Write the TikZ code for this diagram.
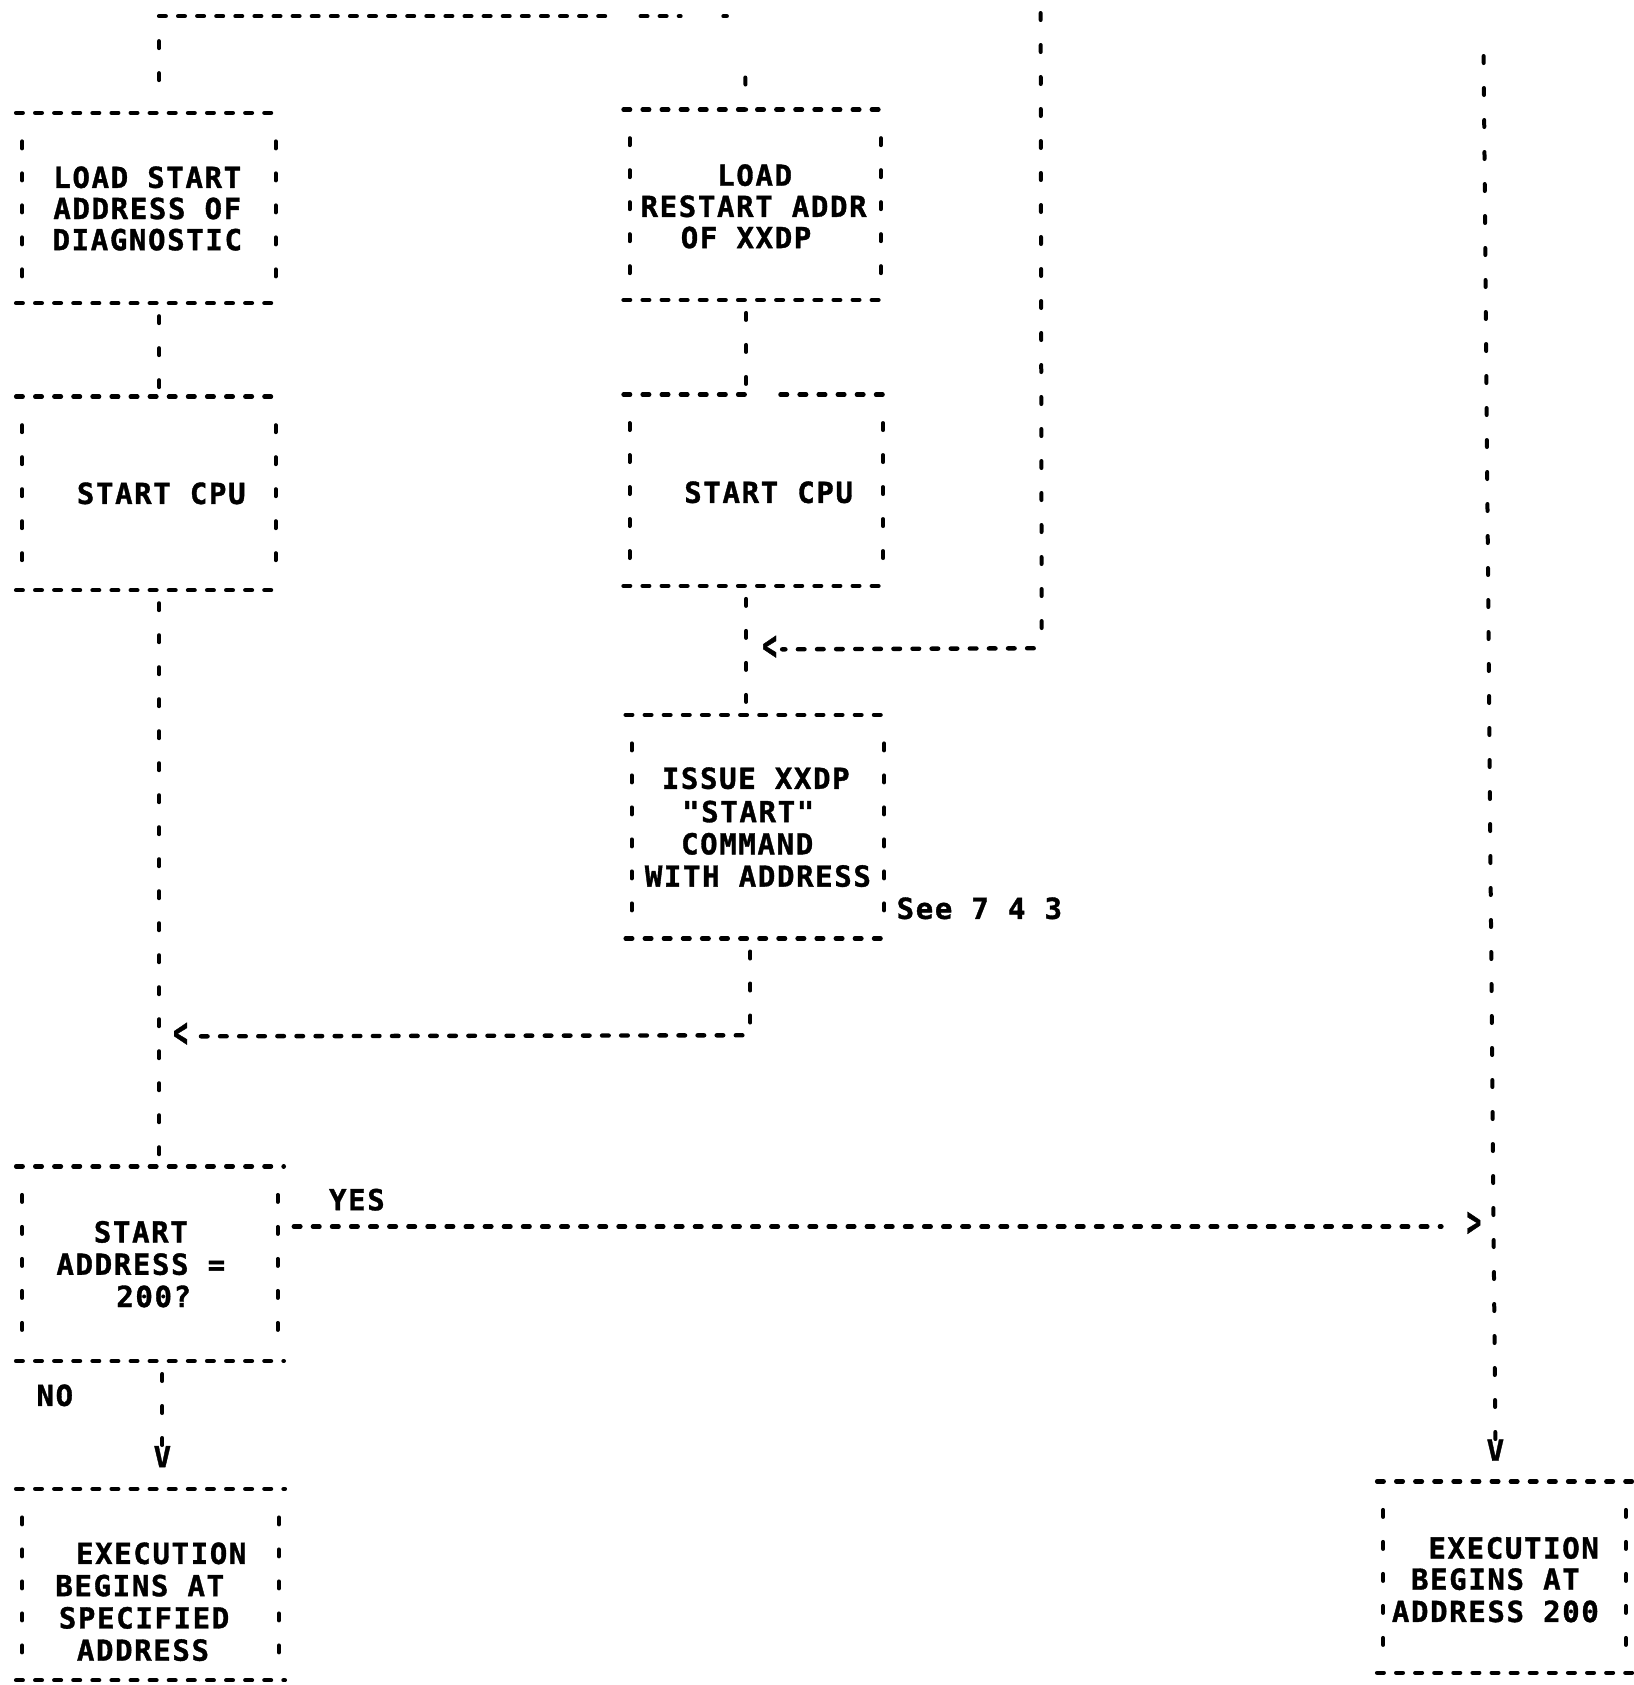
\documentclass[tikz,border=0pt]{standalone}
\usepackage{fontspec}
\usepackage{graphicx}
\usetikzlibrary{fit}
\newfontfamily\prt[LetterSpace=5.7, BoldFeatures={FakeBold=1.2}]{DejaVu Sans Mono}
\tikzset{
  hd/.style={line width=4.4pt, line cap=round, dash pattern=on 6.6pt off 12.5pt},
  vd/.style={line width=4pt, line cap=round, dash pattern=on 7pt off 25pt},
  vc/.style={vd, dash phase=19pt},
  boxn/.style={inner sep=0pt, outer sep=0pt, draw=none},
  txt/.style={font=\prt\bfseries\fontsize{29pt}{32pt}\selectfont, inner sep=0pt, outer sep=0pt, text height=21pt, text depth=0pt},
}
\newcommand\pbox[5]{%
  \node[boxn, fit={(#2,#3)(#4,#5)}] (#1) {};
  \draw[hd] (#1.north west) -- (#1.north east);
  \draw[hd] (#1.south west) -- (#1.south east);
  \draw[vd] ([xshift=6pt,yshift=-28.5pt]#1.north west) -- ([xshift=6pt,yshift=20pt]#1.south west);
  \draw[vd] ([xshift=-6pt,yshift=-28.5pt]#1.north east) -- ([xshift=-6pt,yshift=20pt]#1.south east);}
\newcommand\lt{\scalebox{0.85}[1.45]{<}}
\newcommand\gt{\scalebox{0.85}[1.45]{>}}
\begin{document}
\begin{tikzpicture}[x=1.075pt,y=-1.075pt]
\useasboundingbox (0,0) rectangle (1519.1,1567.4);

% boxes
\pbox{b1}{15}{105}{262}{282}
\node[boxn, fit={(580,367)(827,545)}] (b4) {};
\pbox{b2}{580}{102}{825}{279}
\pbox{b3}{15}{369}{262}{549}
\pbox{b5}{582}{665}{828}{873}
\pbox{b6}{15}{1085}{264}{1266}
\pbox{b7}{15}{1385}{265}{1563}
\pbox{b8}{1281}{1378}{1518}{1556}
% b4 drawn with gap in its top edge
\coordinate (g1) at (699,367);
\coordinate (g2) at (726,367);
\draw[hd] (b4.north west) -- (g1);
\draw[hd] (g2) -- (b4.north east);
\draw[hd] (b4.south west) -- (b4.south east);
\draw[vd] ([xshift=6pt,yshift=-28.5pt]b4.north west) -- ([xshift=6pt,yshift=20pt]b4.south west);
\draw[vd] ([xshift=-6pt,yshift=-28.5pt]b4.north east) -- ([xshift=-6pt,yshift=20pt]b4.south east);

% texts
\node[txt] (l1a) at (137,165) {LOAD START};
\node[txt] (l1b) at (137,194) {ADDRESS OF};
\node[txt] (l1c) at (137,223) {DIAGNOSTIC};
\node[txt] (l2a) at (702,163) {LOAD};
\node[txt] (l2b) at (701,192) {RESTART ADDR};
\node[txt] (l2c) at (694,221) {OF XXDP};
\node[txt] (l3a) at (150,459) {START CPU};
\node[txt] (l4a) at (715,458) {START CPU};
\node[txt] (l5a) at (703,724) {ISSUE XXDP};
\node[txt] (l5b) at (696,755) {"START"};
\node[txt] (l5c) at (695,785) {COMMAND};
\node[txt] (l5d) at (705,815) {WITH ADDRESS};
\node[txt] (see) at (911,845) {See 7 4 3};
\node[txt] (l6a) at (131,1146) {START};
\node[txt] (l6b) at (131,1176) {ADDRESS =};
\node[txt] (l6c) at (143,1206) {200?};
\node[txt] (yes) at (332,1116) {YES};
\node[txt] (no) at (51,1298) {NO};
\node[txt] (l7a) at (150,1445) {EXECUTION};
\node[txt] (l7b) at (130,1475) {BEGINS AT};
\node[txt] (l7c) at (134,1505) {SPECIFIED};
\node[txt] (l7d) at (133,1535) {ADDRESS};
\node[txt] (l8a) at (1408,1440) {EXECUTION};
\node[txt] (l8b) at (1391,1469) {BEGINS AT};
\node[txt] (l8c) at (1391,1499) {ADDRESS 200};

% arrow glyphs
\node[txt] (lt1) at (716,604) {\lt};
\node[txt] (lt2) at (168,964) {\lt};
\node[txt] (gtn) at (1371,1140) {\gt};
\node[txt] (vL) at (151,1355) {V};
\node[txt] (vR) at (1391,1349) {V};

% column / row coordinates
\coordinate (colA) at (148,0);
\coordinate (colA2) at (151,0);
\coordinate (colB) at (698,0);
\coordinate (colC) at (694,0);
\coordinate (t1) at (148,15);
\coordinate (t1b) at (148,88);
\coordinate (t2) at (572,15);
\coordinate (t3) at (596,15);
\coordinate (t4) at (633,15);
\coordinate (t5) at (673,15);
\coordinate (t6) at (676,15);
\coordinate (t7) at (693,60);
\coordinate (top968) at (968,0);
\coordinate (j1) at (969,603);
\coordinate (j2) at (698,963);
\coordinate (yrow) at (0,1141);
\coordinate (rc) at (1380,40);

% connectors
\draw[hd] (t1) -- (t2);
\draw[hd] (t3) -- (t4);
\draw[hd] (t5) -- (t6);
\draw[vd, dash phase=7pt] (t1) -- (t1b);
\draw[vc] (t7) -- (b2.north -| colC);
\draw[vc] (b1.south -| colA) -- (b3.north -| colA);
\draw[vc] (b2.south -| colC) -- (b4.north -| colC);
\draw[vc] (b4.south -| colC) -- (b5.north -| colC);
\draw[vc] (top968) -- (j1);
\draw[hd] ([xshift=-8pt]j1) -- ([xshift=5pt]lt1.east);
\draw[vc] (b5.south -| colB) -- (j2);
\draw[hd] ([xshift=-8pt]j2) -- ([xshift=5pt]lt2.east);
\draw[vc] (b3.south -| colA) -- (b6.north -| colA);
\draw[hd] ([xshift=10pt]b6.east |- yrow) -- ([xshift=-25pt]gtn.west |- yrow);
\draw[vc] (rc) -- (vR.north);
\draw[vc] (b6.south -| colA2) -- (vL.north);
\end{tikzpicture}
\end{document}
